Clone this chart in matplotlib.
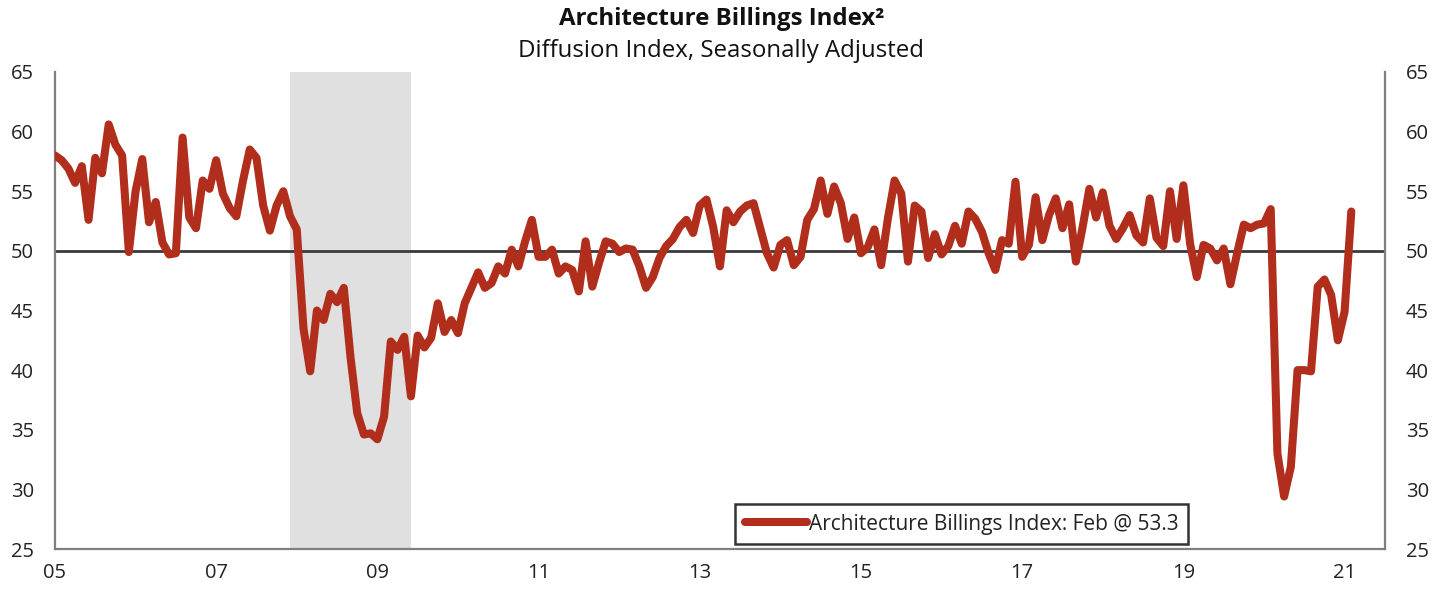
import matplotlib
matplotlib.use("Agg")
import matplotlib.pyplot as plt
import numpy as np

plt.rcParams['font.family'] = ['Open Sans', 'DejaVu Sans']

# Monthly ABI values, Jan 2005 .. Feb 2021
abi = [
    58.0, 57.6, 56.9, 55.7, 57.1, 52.6, 57.8, 56.5, 60.6, 58.9, 58.0, 49.9,   # 2005
    55.0, 57.7, 52.4, 54.1, 50.7, 49.7, 49.8, 59.5, 52.8, 51.9, 55.9, 55.2,   # 2006
    57.6, 54.8, 53.6, 52.9, 55.9, 58.5, 57.8, 53.8, 51.7, 53.8, 55.0, 52.9,   # 2007
    51.8, 43.5, 39.9, 45.0, 44.2, 46.4, 45.7, 46.9, 41.1, 36.4, 34.6, 34.7,   # 2008
    34.2, 36.1, 42.4, 41.7, 42.8, 37.8, 42.9, 41.9, 42.7, 45.6, 43.2, 44.2,   # 2009
    43.1, 45.6, 46.9, 48.2, 46.9, 47.3, 48.7, 48.1, 50.1, 48.7, 50.8, 52.6,   # 2010
    49.5, 49.5, 50.1, 48.1, 48.7, 48.4, 46.6, 50.8, 47.0, 49.0, 50.8, 50.6,   # 2011
    49.9, 50.2, 50.1, 48.7, 46.9, 47.8, 49.4, 50.4, 51.0, 52.0, 52.6, 51.5,   # 2012
    53.8, 54.3, 52.0, 48.7, 53.4, 52.4, 53.3, 53.8, 54.0, 51.9, 49.8, 48.6,   # 2013
    50.5, 50.9, 48.8, 49.5, 52.6, 53.5, 55.9, 53.1, 55.4, 54.0, 51.0, 52.8,   # 2014
    49.8, 50.3, 51.8, 48.8, 52.7, 55.9, 54.8, 49.1, 53.8, 53.3, 49.4, 51.4,   # 2015
    49.7, 50.4, 52.1, 50.6, 53.3, 52.7, 51.6, 49.8, 48.4, 50.9, 50.6, 55.8,   # 2016
    49.5, 50.5, 54.5, 50.9, 53.0, 54.4, 51.9, 53.9, 49.1, 52.0, 55.2, 52.8,   # 2017
    54.9, 52.1, 51.0, 51.9, 53.0, 51.3, 50.7, 54.4, 51.1, 50.4, 55.0, 51.0,   # 2018
    55.5, 50.6, 47.8, 50.5, 50.2, 49.2, 50.2, 47.2, 49.8, 52.2, 51.9, 52.2,   # 2019
    52.3, 53.5, 33.0, 29.4, 31.9, 40.0, 40.0, 39.9, 47.0, 47.6, 46.3, 42.5,   # 2020
    44.9, 53.3,                                                               # 2021
]
start_year = 2005
recession = (2007 + 11 / 12, 2009 + 5 / 12)
x_ticks = [2005, 2007, 2009, 2011, 2013, 2015, 2017, 2019, 2021]
x_labels = ["05", "07", "09", "11", "13", "15", "17", "19", "21"]
y_ticks = [25, 30, 35, 40, 45, 50, 55, 60, 65]
legend_label = "Architecture Billings Index: Feb @ 53.3"

dates = start_year + np.arange(len(abi)) / 12.0

fig = plt.figure(figsize=(14.5, 5.89), dpi=100)
ax = fig.add_axes([0.0379, 0.0679, 0.9172, 0.8099])

ax.axvspan(recession[0], recession[1], color="#e0e0e0", lw=0, zorder=0)
ax.axhline(50, color="#3a3a3a", lw=2.0, zorder=1)
ax.plot(dates, abi, color="#b22e1c", lw=5.8, solid_joinstyle="round",
        solid_capstyle="round", label=legend_label, zorder=3)

ax.set_xlim(2005, 2021.5)
ax.set_ylim(25, 65)
ax.set_xticks(x_ticks)
ax.set_xticklabels(x_labels)
ax.set_yticks(y_ticks)

ax.spines["top"].set_visible(False)
for s in ["left", "right", "bottom"]:
    ax.spines[s].set_color("#857d7d")
    ax.spines[s].set_linewidth(1.6)

ax.tick_params(axis="y", which="both", length=0, labelsize=14.5,
               labelcolor="#222222", left=True, right=True,
               labelleft=True, labelright=True, pad=15)
ax.tick_params(axis="x", length=0, labelsize=14.5, labelcolor="#222222", pad=10)

fig.text(0.4975, 0.968, "Architecture Billings Index\u00b2", ha="center", va="center",
         fontsize=17.3, fontweight="bold", color="#111111")
fig.text(0.4975, 0.913, "Diffusion Index, Seasonally Adjusted", ha="center", va="center",
         fontsize=17.3, color="#111111")

leg = ax.legend(loc="center", bbox_to_anchor=(0.682, 0.052), frameon=True,
                fancybox=False, fontsize=15, handlelength=3.0, handletextpad=0.1,
                borderpad=0.45, borderaxespad=0)
leg.get_frame().set_edgecolor("black")
leg.get_frame().set_linewidth(1.8)
for t in leg.get_texts():
    t.set_color("#222222")

fig.savefig("out.png", dpi=100)
